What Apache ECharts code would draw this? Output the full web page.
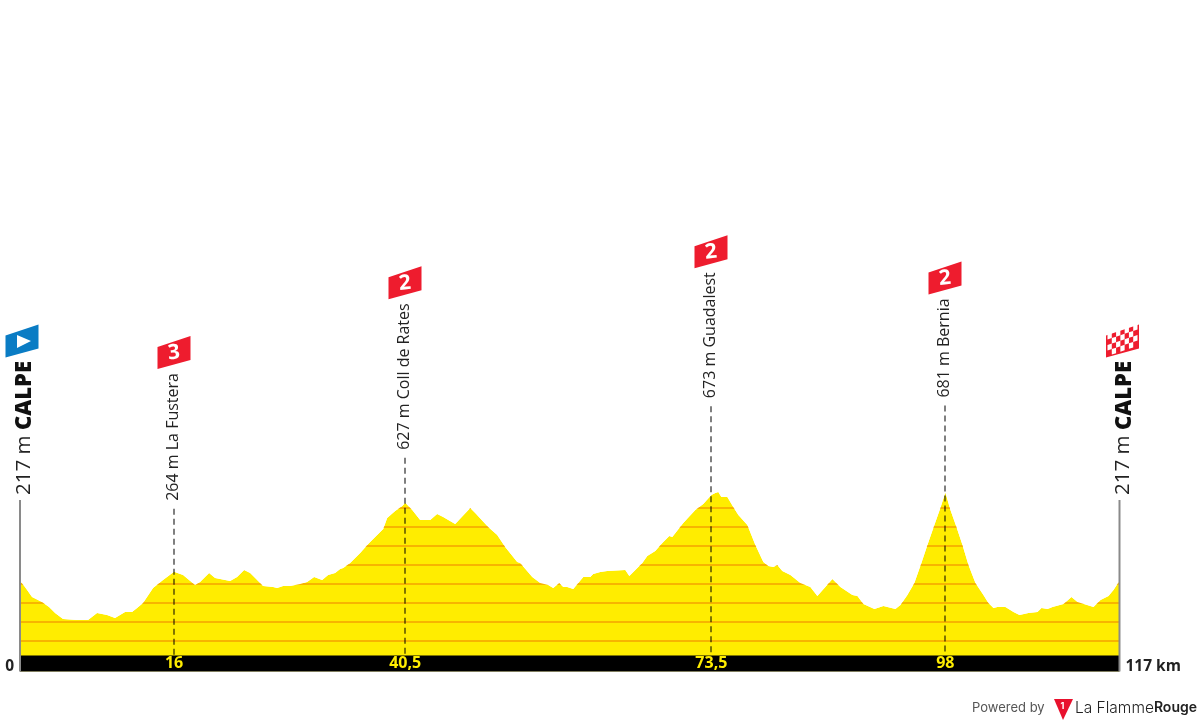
<!DOCTYPE html>
<html>
<head>
<meta charset="utf-8">
<title>Calpe - Calpe</title>
<script src="https://cdn.jsdelivr.net/npm/echarts@6/dist/echarts.min.js"></script>
<style>
html, body { margin: 0; padding: 0; background: #fff; }
#chart { width: 1200px; height: 725px; }
</style>
</head>
<body>
<div id="chart"></div>
<script>
// profile (km / metres)
const profileKm = [0, 0.53, 1.28, 2.34, 3.09, 3.73, 4.58, 6.07, 7.24, 8.2, 9.26, 10.11, 11.18, 11.92, 12.46, 13.09, 14.16, 15.22, 16.39, 17.35, 18.63, 19.16, 20.12, 20.76, 22.36, 23.1, 23.85, 24.49, 25.87, 26.93, 27.36, 28, 28.74, 29.81, 30.55, 31.3, 32.15, 32.79, 33.53, 34.07, 34.39, 35.13, 36.2, 37.05, 38.65, 39.07, 39.92, 40.68, 40.99, 41.74, 42.58, 43.65, 44.39, 45.03, 46.31, 47.91, 48.44, 49.82, 50.78, 51.63, 52.91, 53.23, 54.51, 55.36, 56.21, 56.42, 56.74, 57.38, 57.81, 58.23, 58.87, 59.94, 60.68, 61, 61.75, 62.49, 64.41, 64.84, 66.22, 66.75, 67.6, 68.35, 69.09, 69.41, 70.58, 71.86, 72.71, 73.57, 73.99, 74.31, 74.63, 75.27, 75.9, 76.44, 77.4, 78.25, 79.1, 79.63, 80.17, 80.59, 81.12, 81.98, 83.04, 84.1, 84.85, 86.45, 87.3, 88.58, 89.11, 89.75, 90.92, 91.88, 93.15, 93.69, 94.43, 95.17, 95.92, 96.56, 97.3, 97.94, 98.47, 99.01, 99.65, 100.29, 100.93, 101.67, 102.52, 103.05, 103.59, 104.01, 104.86, 105.72, 106.36, 107.31, 108.27, 108.7, 109.34, 109.87, 111.04, 111.89, 112.53, 114.23, 114.98, 115.83, 116.36, 117];
const profileM = [217, 184, 132, 105, 79, 47, 16, 11, 11, 47, 37, 21, 53, 53, 74, 100, 179, 221, 264, 247, 195, 211, 258, 232, 216, 237, 274, 258, 189, 184, 179, 189, 189, 200, 211, 237, 221, 247, 258, 279, 284, 311, 363, 411, 489, 547, 584, 611, 627, 589, 537, 537, 568, 553, 516, 600, 574, 500, 458, 395, 316, 311, 237, 205, 195, 205, 179, 205, 184, 184, 174, 237, 237, 253, 263, 268, 274, 242, 311, 347, 374, 416, 453, 447, 521, 589, 621, 668, 679, 684, 658, 658, 605, 563, 511, 405, 316, 295, 289, 300, 268, 247, 205, 184, 137, 226, 184, 142, 137, 95, 68, 84, 68, 89, 142, 205, 311, 405, 511, 600, 681, 589, 500, 405, 300, 205, 142, 100, 74, 79, 79, 53, 37, 47, 53, 74, 68, 79, 95, 132, 105, 79, 116, 137, 168, 217];

const contourLevels = [-100, 0, 100, 200, 300, 400, 500, 600];

const climbKm = [16.39, 40.99, 73.57, 98.47];
const climbM = [264, 627, 673, 681];
const climbNames = ['264 m La Fustera', '627 m Coll de Rates', '673 m Guadalest', '681 m Bernia'];
const climbCats = ['3', '2', '2', '2'];
const climbKmLabels = ['16', '40,5', '73,5', '98'];

const endKm = [0, 117];
const endM = [217, 217];
const endPlace = 'CALPE';
const endHeight = '217 m';
const endKmLabels = ['0', '117 km'];

const YELLOW = '#ffed00';
const RED = '#ee1c2e';
const BASE_M = -176;
const leaderPx = [63, 45, 88, 87];

const chart = echarts.init(document.getElementById('chart'), null, { renderer: 'canvas' });

const ctx = document.createElement('canvas').getContext('2d');
function textLen(txt, font) {
    ctx.font = font;
    return ctx.measureText(txt).width;
}

/** skewed flag, x is the middle of the flag, y the bottom of its left edge */
function flagPoints(x, y) {
    return [[x - 16.5, y - 22], [x + 16.5, y - 33], [x + 16.5, y - 9], [x - 16.5, y]];
}

function renderClimb(params, api) {
    const i = params.dataIndex;
    const top = api.coord([api.value(0), api.value(1)]);
    const base = api.coord([api.value(0), BASE_M]);
    const x = Math.round(top[0]);
    const stemTop = top[1] - leaderPx[i];
    const labelFont = '16px "Open Sans"';
    const textBottom = stemTop - 8;
    const flagBottom = textBottom - textLen(climbNames[i], labelFont) - 4;
    return {
        type: 'group',
        children: [
            {
                type: 'line',
                shape: { x1: x, y1: stemTop, x2: x, y2: base[1] },
                style: { stroke: 'rgba(0,0,0,0.5)', lineWidth: 2, lineDash: [6, 4] }
            },
            {
                type: 'text',
                x: x - 1,
                y: textBottom,
                rotation: Math.PI / 2,
                style: { text: climbNames[i], font: labelFont, fill: '#222', align: 'left', verticalAlign: 'middle' }
            },
            {
                type: 'polygon',
                shape: { points: flagPoints(x, flagBottom) },
                style: { fill: RED }
            },
            {
                type: 'text',
                x: x,
                y: flagBottom - 16,
                rotation: 0.1,
                style: { text: climbCats[i], font: 'bold 21px "Open Sans"', fill: '#fff', align: 'center', verticalAlign: 'middle' }
            }
        ]
    };
}

function checkerCells(x, y) {
    const cells = [];
    const cols = 7, rows = 4;
    const w = 30 / cols, h = 22 / rows;
    for (let r = 0; r < rows; r++) {
        for (let c = 0; c < cols; c++) {
            if ((r + c) % 2) continue;
            const left = x - 15 + c * w;
            const rise = (c * w) / 3;
            const yy = y - 24.5 + r * h - rise + 1;
            cells.push({
                type: 'polygon',
                shape: { points: [[left, yy], [left + w, yy - w / 3], [left + w, yy - w / 3 + h], [left, yy + h]] },
                style: { fill: '#fff' }
            });
        }
    }
    return cells;
}

function renderEnd(params, api) {
    const i = params.dataIndex;
    const pt = api.coord([api.value(0), api.value(1)]);
    const bottom = api.coord([api.value(0), -260]);
    const band = api.coord([api.value(0), -218]);
    const x = pt[0];
    const flagX = i === 0 ? x + 2 : x + 3;
    const children = [
        {
            type: 'line',
            shape: { x1: x, y1: 500, x2: x, y2: bottom[1] },
            style: { stroke: '#8a8a8a', lineWidth: 2 }
        },
        {
            type: 'text',
            x: x + 4,
            y: 495,
            rotation: Math.PI / 2,
            style: { text: endHeight, font: '20.5px "Open Sans"', fill: '#222', align: 'left', verticalAlign: 'middle' }
        },
        {
            type: 'text',
            x: x + 5,
            y: 430,
            rotation: Math.PI / 2,
            style: { text: endPlace, font: '800 22px "Open Sans"', fill: '#111', align: 'left', verticalAlign: 'middle' }
        },
        {
            type: 'polygon',
            shape: { points: flagPoints(flagX, 357.5) },
            style: { fill: i === 0 ? '#0a7cc4' : RED }
        },
        {
            type: 'text',
            x: i === 0 ? x - 6 : x + 6,
            y: band[1] + 3,
            style: {
                text: endKmLabels[i],
                font: 'bold 15.5px "Open Sans"',
                fill: '#222',
                align: i === 0 ? 'right' : 'left',
                verticalAlign: 'middle'
            }
        }
    ];
    if (i === 0) {
        children.push({
            type: 'polygon',
            shape: { points: [[flagX - 5, 335], [flagX + 9, 341], [flagX - 5, 348]] },
            style: { fill: '#fff' }
        });
    } else {
        children.push(...checkerCells(flagX, 357.5));
    }
    return { type: 'group', children };
}

const contourSeries = contourLevels.map((level) => ({
    type: 'line',
    name: 'contour ' + level,
    data: [[0, level], [117, level]],
    symbol: 'none',
    z: 3,
    silent: true,
    lineStyle: { color: '#f7b500', width: 2 }
}));

const profile = profileKm.map((km, i) => [km, profileM[i]]);

const option = {
    animation: false,
    backgroundColor: '#fff',
    grid: { left: 20, width: 1099.5, top: 147, height: 524.4 },
    xAxis: {
        type: 'value',
        min: 0,
        max: 117,
        z: 10,
        splitLine: { show: false },
        axisLine: { show: false },
        axisTick: { show: false },
        axisLabel: {
            inside: true,
            margin: 0,
            customValues: climbKm,
            color: YELLOW,
            fontFamily: 'Open Sans',
            fontWeight: 'bold',
            fontSize: 16,
            formatter: (value) => climbKmLabels[climbKm.indexOf(value)]
        }
    },
    yAxis: {
        type: 'value',
        min: -260,
        max: 2500,
        show: false,
        splitLine: { show: false }
    },
    series: [
        {
            type: 'line',
            name: 'profile',
            data: profile,
            symbol: 'none',
            z: 2,
            silent: true,
            lineStyle: { width: 0 },
            areaStyle: { color: YELLOW, opacity: 1, origin: 'start' }
        },
        ...contourSeries,
        {
            // white cover so the contour lines stop at the profile, black km band on top of the fill
            type: 'line',
            name: 'sky',
            data: profile,
            symbol: 'none',
            z: 4,
            silent: true,
            lineStyle: { width: 0 },
            areaStyle: { color: '#fff', opacity: 1, origin: 'end' },
            markArea: {
                silent: true,
                z: 5,
                itemStyle: { color: '#000', opacity: 1 },
                data: [[{ xAxis: 0, yAxis: BASE_M }, { xAxis: 117, yAxis: -260 }]]
            }
        },
        {
            type: 'custom',
            name: 'climbs',
            z: 6,
            silent: true,
            clip: false,
            encode: { x: 0, y: 1 },
            data: climbKm.map((km, i) => [km, climbM[i]]),
            renderItem: renderClimb
        },
        {
            type: 'custom',
            name: 'ends',
            z: 6,
            silent: true,
            clip: false,
            encode: { x: 0, y: 1 },
            data: endKm.map((km, i) => [km, endM[i]]),
            renderItem: renderEnd
        }
    ],
    graphic: [
        {
            type: 'text',
            left: 972,
            top: 702,
            style: { text: 'Powered by', font: '13px Inter, Roboto', fill: '#555' }
        },
        {
            type: 'polygon',
            shape: { points: [[1054, 699], [1073, 699], [1063, 720]] },
            style: { fill: '#e8112d' }
        },
        {
            type: 'text',
            left: 1060.5,
            top: 702,
            style: { text: '1', font: 'bold 9px Inter, Roboto', fill: '#fff' }
        },
        {
            type: 'text',
            left: 1075,
            top: 700,
            style: {
                text: '{a|La Flamme}{b|Rouge}',
                rich: {
                    a: { font: '300 15.5px Inter, Roboto', fill: '#222' },
                    b: { font: '600 14px Inter, Roboto', fill: '#222' }
                }
            }
        }
    ]
};

chart.setOption(option);
</script>
</body>
</html>
